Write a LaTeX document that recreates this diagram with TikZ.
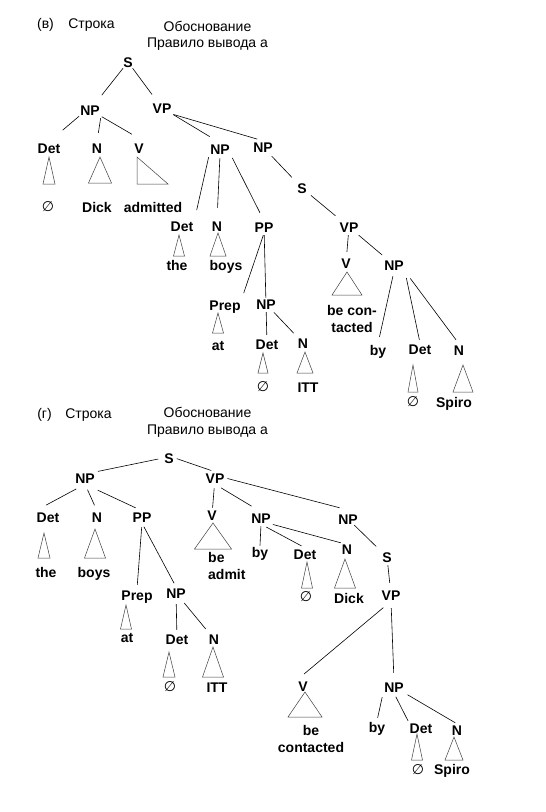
\documentclass[tikz,border=0pt]{standalone}
\usepackage{fontspec}
\setmainfont{Liberation Sans}
\newfontfamily\emptysetfont{DejaVu Sans}

% little triangle over a word: x, apex y, half base, base y
\newcommand{\roof}[4]{\draw[roofline] (#1,#2) -- ({#1-#3},#4) -- ({#1+#3},#4) -- cycle;}

\begin{document}
\begin{tikzpicture}[x=1pt,y=-1pt,
    cat/.style={font=\fontsize{14}{17}\selectfont\bfseries, inner sep=1pt, text height=10pt, text depth=0pt},
    word/.style={font=\fontsize{14}{17}\selectfont\bfseries, inner sep=1pt, anchor=base},
    head/.style={font=\fontsize{14}{16}\selectfont, inner sep=0pt, anchor=base},
    nul/.style={font=\fontsize{14}{17}\selectfont\emptysetfont, inner sep=0pt},
    branch/.style={line width=0.6pt},
    roofline/.style={line width=0.5pt, black!75},
    cut/.style 2 args={branch, shorten <=#1pt, shorten >=#2pt}]
  \path[fill=white] (0,0) rectangle (546,812);
  \useasboundingbox (0,0) rectangle (546,812);

  % (в)
  \node[head] (vtag) at (45.5,28) {(в)};
  \node[head] (vstr) at (91.5,28) {Строка};
  \node[head] (vobos) at (207.5,31.5) {Обоснование};
  \node[head] (vrule) at (207.5,47.5) {Правило вывода а};

  \node[cat] (vS) at (128,62) {S};
  \node[cat] (vNP) at (90,110) {NP};
  \node[cat] (vVP) at (162,108) {VP};
  \node[cat] (vDet) at (49,148) {Det};
  \node[cat] (vN) at (97,148) {N};
  \node[cat] (vV) at (139,148) {V};
  \node[cat] (vNPa) at (220,149) {NP};
  \node[cat] (vNPb) at (263,147) {NP};
  \node[cat] (vDeta) at (182,226) {Det};
  \node[cat] (vNa) at (217,226) {N};
  \node[cat] (vPP) at (264,227) {PP};
  \node[cat] (vSb) at (302,188) {S};
  \node[cat] (vVPb) at (349,227) {VP};
  \node[cat] (vVb) at (346,263) {V};
  \node[cat] (vNPc) at (394,265) {NP};
  \node[cat] (vPrep) at (225,305) {Prep};
  \node[cat] (vNPd) at (266,304) {NP};
  \node[cat] (vDetd) at (267,344) {Det};
  \node[cat] (vNd) at (303,343) {N};
  \node[cat] (vDetc) at (420,349) {Det};
  \node[cat] (vNc) at (459,350) {N};

  \node[nul] (vnull) at (48,207) {∅};
  \node[word] (vDick) at (97,212) {Dick};
  \node[word] (vadm) at (153,212) {admitted};
  \node[word] (vthe) at (177,270) {the};
  \node[word] (vboys) at (226,270) {boys};
  \node[word] (vat) at (218,350) {at};
  \node[nul] (vnullb) at (263,387) {∅};
  \node[word] (vITT) at (308,392) {ITT};
  \node[word, anchor=north, align=center] (vbecon) at (352,303.8) {be con-\\tacted};
  \node[word] (vby) at (378,355) {by};
  \node[nul] (vnullc) at (413,402) {∅};
  \node[word] (vSpiro) at (454,407) {Spiro};

  \roof{49}{157}{6}{184}
  \roof{100}{157}{11.5}{183}
  \draw[roofline] (137,157) -- (137,184) -- (168,184) -- cycle;
  \roof{179}{235}{5.5}{256}
  \roof{218}{233}{8}{256}
  \roof{218}{313}{5.5}{333}
  \roof{263}{353}{5}{373}
  \roof{305}{352}{8}{373}
  \roof{347}{272}{15}{295}
  \roof{413}{365}{5}{392}
  \roof{463}{365}{10}{392}

  \draw[cut={0}{11}] (vS) -- (vNP);
  \draw[cut={0}{9}] (vS) -- (vVP);
  \draw[cut={0}{18}] (vNP.south west) -- (vDet.north);
  \draw[cut={2}{9}] (vNP.south east) -- (vN.north);
  \draw[cut={1}{15}] (vNP.south east) -- (vV.north east);
  \draw[cut={1}{12}] (vVP.south east) -- (vNPa.north);
  \draw[cut={1}{6}] (vVP.south east) -- (vNPb.north);
  \draw[cut={2}{10}] (vNPa.south west) -- (vDeta.north east);
  \draw[cut={3}{12}] (vNPa.south) -- (vNa.north);
  \draw[cut={3}{9}] (vNPa.south east) -- (vPP.north);
  \draw[cut={4}{6}] (vNPb) -- (vSb);
  \draw[cut={4}{8}] (vSb) -- (vVPb);
  \draw[cut={2}{5}] (vVPb) -- (vVb);
  \draw[cut={3}{6}] (vVPb) -- (vNPc);
  \draw[cut={5}{7}] (vNPc.south) -- (vby.north);
  \draw[cut={7}{3}] (vNPc.south east) -- (vDetc.north);
  \draw[cut={9}{5}] (vNPc.south east) -- (vNc.north);
  \draw[cut={2}{6}] (vPP.south) -- (vPrep.north east);
  \draw[cut={2}{0}] (vPP) -- (vNPd);
  \draw[cut={2}{3}] (vNPd) -- (vDetd);
  \draw[cut={3}{5}] (vNPd) -- (vNd);

  % (г)
  \node[head] (gtag) at (44.5,418) {(г)};
  \node[head] (gstr) at (88.5,418) {Строка};
  \node[head] (gobos) at (207.5,417.5) {Обоснование};
  \node[head] (grule) at (207.5,434) {Правило вывода а};

  \node[cat] (gS) at (169,458) {S};
  \node[cat] (gNP) at (85,478) {NP};
  \node[cat] (gVP) at (215,478) {VP};
  \node[cat] (gDet) at (48,517) {Det};
  \node[cat] (gN) at (97,517) {N};
  \node[cat] (gPP) at (142,517) {PP};
  \node[cat] (gPrep) at (137,595) {Prep};
  \node[cat] (gNPa) at (176,593) {NP};
  \node[cat] (gDeta) at (177,639) {Det};
  \node[cat] (gNa) at (214,639) {N};
  \node[cat] (gV) at (212,515) {V};
  \node[cat] (gNPb) at (261,518) {NP};
  \node[cat] (gNPc) at (348,519) {NP};
  \node[cat] (gDetb) at (305,554) {Det};
  \node[cat] (gNb) at (347,549) {N};
  \node[cat] (gSb) at (387,557) {S};
  \node[cat] (gVPb) at (391,595) {VP};
  \node[cat] (gVb) at (303,686) {V};
  \node[cat] (gNPd) at (394,687) {NP};
  \node[cat] (gDetd) at (421,728) {Det};
  \node[cat] (gNd) at (457,730) {N};

  \node[word] (gthe) at (46,577) {the};
  \node[word] (gboys) at (94,577) {boys};
  \node[word, anchor=north west, align=left] (gbeadm) at (207,550.8) {be\\admit};
  \node[word] (gby) at (260,557) {by};
  \node[nul] (gnull) at (306,597) {∅};
  \node[word] (gDick) at (349,603) {Dick};
  \node[word] (gat) at (127,642) {at};
  \node[nul] (gnullb) at (170,687) {∅};
  \node[word] (gITT) at (217,692) {ITT};
  \node[word, anchor=north, align=center] (gbecont) at (311,723.8) {be\\contacted};
  \node[word] (gbyb) at (377,732) {by};
  \node[nul] (gnullc) at (418,770) {∅};
  \node[word] (gSpiro) at (452,774) {Spiro};

  \roof{44}{533}{6}{558}
  \roof{95}{529}{10.5}{558}
  \roof{213}{523}{18.5}{549}
  \roof{307}{562}{5.5}{588}
  \roof{345}{559}{10.5}{588}
  \roof{126}{605}{5.5}{629}
  \roof{169}{652}{6}{677}
  \roof{213}{647}{10.5}{677}
  \roof{305}{692}{17}{717}
  \roof{417}{734}{5.5}{760}
  \roof{454}{737}{9}{760}

  \draw[cut={5}{2}] (gS.west) -- (gNP.north east);
  \draw[cut={2}{4}] (gS.east) -- (gVP.north);
  \draw[cut={10}{12}] (gNP.south) -- (gDet.north west);
  \draw[cut={6}{6}] (gNP.south) -- (gN.north);
  \draw[cut={14}{7}] (gNP.south) -- (gPP.north);
  \draw[cut={4}{4}] (gPP.south) -- (gPrep.north);
  \draw[cut={4}{4}] (gPP.south) -- (gNPa.north);
  \draw[cut={5}{3}] (gNPa) -- (gDeta);
  \draw[cut={5}{5}] (gNPa) -- (gNa);
  \draw[cut={4}{1}] (gVP) -- (gV);
  \draw[cut={7}{11}] (gVP.south) -- (gNPb.north);
  \draw[cut={2}{20}] (gVP.east) -- (gNPc.north east);
  \draw[cut={2}{0}] (gNPb.south) -- (gby.north);
  \draw[cut={6}{4}] (gNPb.south) -- (gDetb.north);
  \draw[cut={1}{0}] (gNPb.south east) -- (gNb.north west);
  \draw[cut={0}{7}] (gNPc) -- (gSb);
  \draw[cut={2}{6}] (gSb) -- (gVPb);
  \draw[cut={10}{9}] (gVPb.south) -- (gVb.north west);
  \draw[cut={7}{8}] (gVPb.south) -- (gNPd.north);
  \draw[cut={4}{3}] (gNPd.south west) -- (gbyb.north);
  \draw[cut={4}{1}] (gNPd.south) -- (gDetd.north west);
  \draw[cut={3}{2}] (gNPd.south east) -- (gNd.north);
\end{tikzpicture}
\end{document}
